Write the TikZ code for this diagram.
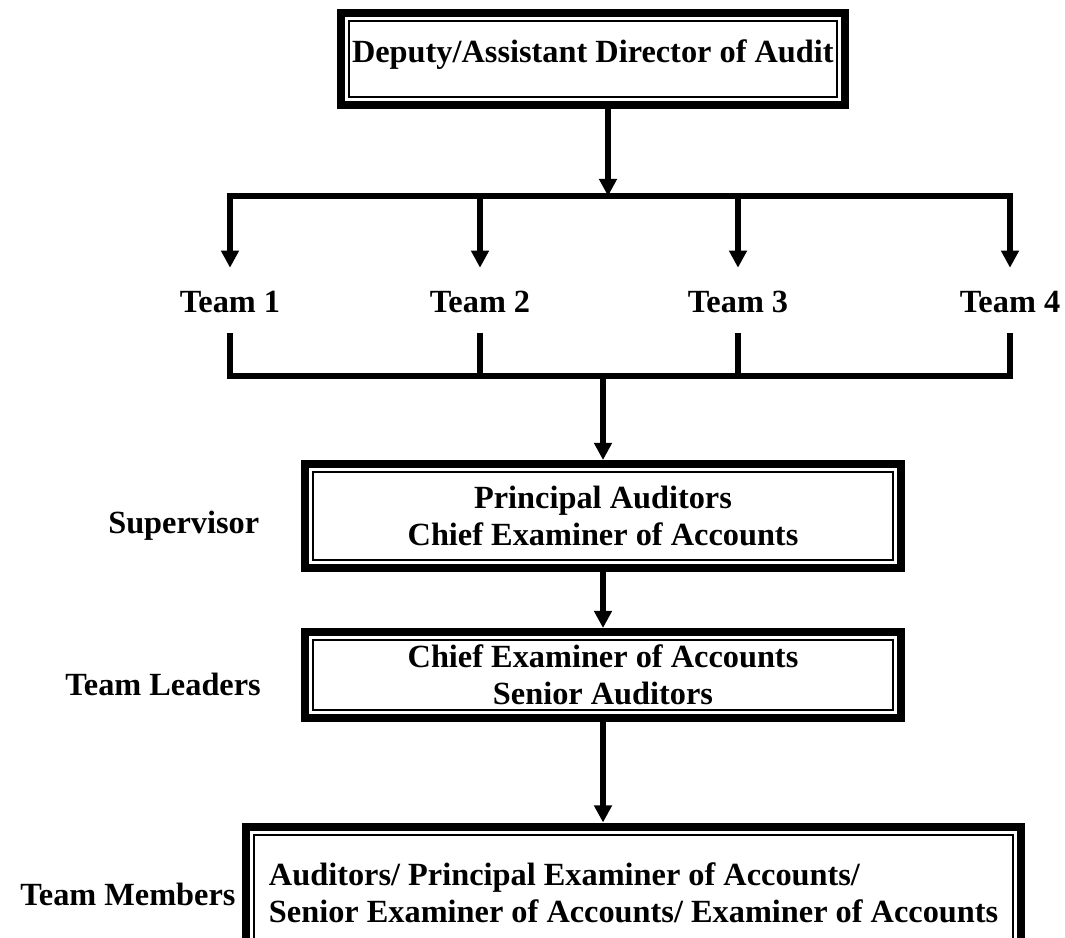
\documentclass[tikz,border=0pt]{standalone}
\usepackage{fontspec}
\setmainfont{Liberation Serif}
\usetikzlibrary{arrows.meta,positioning}
\tikzset{
  lbl/.style={font=\bfseries\fontsize{23}{26.3}\selectfont,inner xsep=0pt},
  box/.style={lbl,draw,line width=0.05cm,outer sep=0.3cm,inner ysep=0pt,text height=1.86cm},
  frame/.style={line width=0.2cm},
  bar/.style={line width=0.15cm,line join=miter},
  link/.style={line width=0.15cm,-{Triangle[width=0.43cm,length=0.43cm]}},
  team/.style={lbl,anchor=base,text height=0.57cm,text depth=0pt,inner ysep=0.53cm}
}
\newcommand{\twolines}[3]{\begin{tabular}[b]{@{}#1@{}}#2\\#3\end{tabular}}

\begin{document}
\begin{tikzpicture}
\useasboundingbox (0,0) rectangle (26.625,-23.425);
\clip (0,0) rectangle (26.625,-23.425);
% \draw[help lines] (0,0) grid (26,-23);
\node (dep) [box,anchor=west,inner xsep=0.075cm,minimum height=1.9cm,text height=0.57cm,text depth=0.42cm] at (8.425,-1.475) {Deputy/Assistant Director of Audit};
%
\coordinate (split) at (15.2,-4.9);
\coordinate (join) at (15.075,-9.4);
\foreach \i/\x in {1/5.75,2/12,3/18.45,4/25.25}
  \node (t\i) [team] at (\x,-7.8) {Team \i};
%
\node (sup) [box,minimum width=14.5cm,minimum height=2.2cm,text height=1.8cm,text depth=0.35cm] at (15.075,-12.9) {\twolines{c}{Principal Auditors}{Chief Examiner of Accounts}};
\node (lead) [box,minimum width=14.5cm,minimum height=1.75cm,text height=1.6cm,text depth=0.15cm] at (15.075,-16.875) {\twolines{c}{Chief Examiner of Accounts}{Senior Auditors}};
\node (mem) [box,inner xsep=0.375cm,minimum height=2.775cm,text depth=0.26cm] at (15.84,-22.25) {\twolines{l}{Auditors/ Principal Examiner of Accounts/}{Senior Examiner of Accounts/ Examiner of Accounts}};
%
\node (lsup) [lbl,anchor=base west] at (2.7,-13.325) {Supervisor};
\node (llead) [lbl,anchor=base west] at (1.625,-17.375) {Team Leaders};
\node (lmem) [lbl,anchor=base west] at (0.5,-22.625) {Team Members};
%
\foreach \b in {dep,sup,lead,mem}
  \draw[frame] ([shift={(0.1,-0.1)}]\b.north west) rectangle ([shift={(-0.1,0.1)}]\b.south east);
%
\draw[link] (dep.south -| split) -- (split);
\draw[bar,line cap=rect] (t1.north |- split) -- (t4.north |- split);
\foreach \i in {1,...,4}
  \draw[link] (t\i.north |- split) -- (t\i.north);
\draw[bar] (t1.south) |- (join) -| (t4.south);
\draw[bar] (t2.south) -- (t2.south |- join);
\draw[bar] (t3.south) -- (t3.south |- join);
\draw[link] (join) -- (sup.north);
\draw[link] (sup.south) -- (lead.north);
\draw[link] (lead.south) -- (lead.south |- mem.north);
\end{tikzpicture}
\end{document}
